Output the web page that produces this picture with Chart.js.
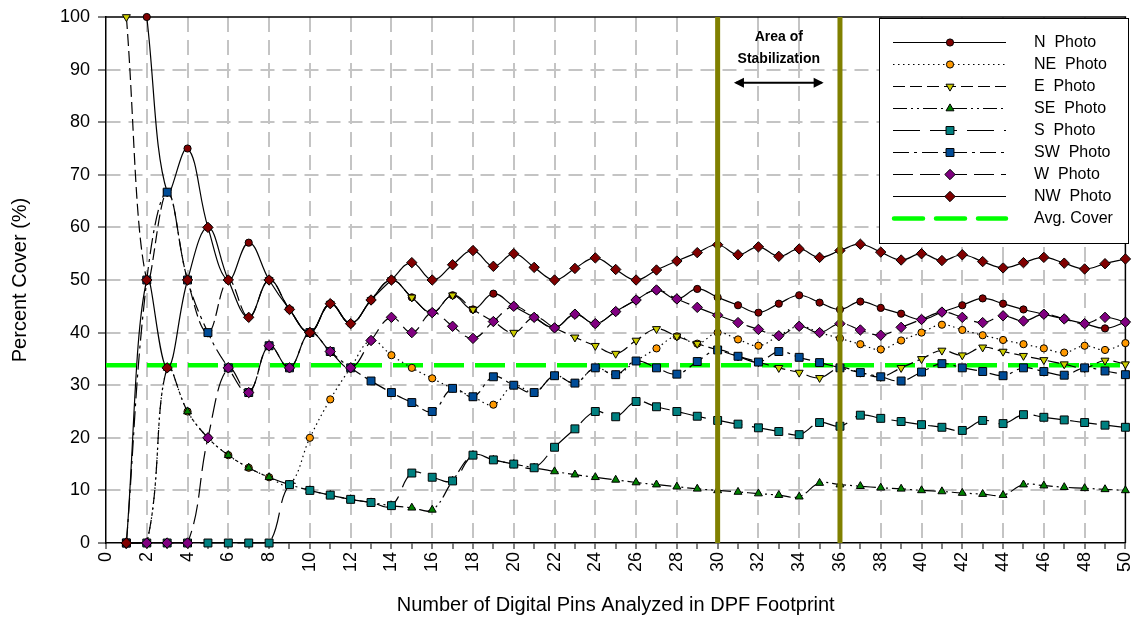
<!DOCTYPE html>
<html>
<head>
<meta charset="utf-8">
<script src="https://cdn.jsdelivr.net/npm/chart.js@4.4.0/dist/chart.umd.min.js"></script>
<style>
  html, body { margin: 0; padding: 0; background: #fff; }
</style>
</head>
<body>
<canvas id="chart" width="1132" height="630"></canvas>
<script>
// number of pins analysed
const pins = [1, 2, 3, 4, 5, 6, 7, 8, 9, 10, 11, 12, 13, 14, 15, 16, 17, 18, 19, 20,
  21, 22, 23, 24, 25, 26, 27, 28, 29, 30, 31, 32, 33, 34, 35, 36, 37, 38, 39, 40,
  41, 42, 43, 44, 45, 46, 47, 48, 49, 50];

// percent cover per photo direction
const nPhoto = [null, 100, 66.7, 75, 60, 50, 57.1, 50, 44.4, 40,
  45.5, 41.7, 46.2, 50, 46.7, 43.8, 47.1, 44.4, 47.4, 45,
  42.9, 40.9, 43.5, 41.7, 44, 46.2, 48.1, 46.4, 48.3, 46.7,
  45.2, 43.8, 45.5, 47.1, 45.7, 44.4, 45.9, 44.7, 43.6, 42.5,
  43.9, 45.2, 46.5, 45.5, 44.4, 43.5, 42.6, 41.7, 40.8, 42];
const nePhoto = [0, 0, 33.3, 25, 20, 16.7, 14.3, 12.5, 11.1, 20,
  27.3, 33.3, 38.5, 35.7, 33.3, 31.3, 29.4, 27.8, 26.3, 30,
  28.6, 31.8, 30.4, 33.3, 32, 34.6, 37, 39.3, 37.9, 40,
  38.7, 37.5, 39.4, 41.2, 40, 38.9, 37.8, 36.8, 38.5, 40,
  41.5, 40.5, 39.5, 38.6, 37.8, 37, 36.2, 37.5, 36.7, 38];
const ePhoto = [100, 50, 66.7, 50, 40, 50, 42.9, 50, 44.4, 40,
  45.5, 41.7, 46.2, 50, 46.7, 43.8, 47.1, 44.4, 42.1, 40,
  42.9, 40.9, 39.1, 37.5, 36, 38.5, 40.7, 39.3, 37.9, 36.7,
  35.5, 34.4, 33.3, 32.4, 31.4, 33.3, 32.4, 31.6, 33.3, 35,
  36.6, 35.7, 37.2, 36.4, 35.6, 34.8, 34, 33.3, 34.7, 34];
const sePhoto = [0, 0, 33.3, 25, 20, 16.7, 14.3, 12.5, 11.1, 10,
  9.1, 8.3, 7.7, 7.1, 6.7, 6.3, 11.8, 16.7, 15.8, 15,
  14.3, 13.6, 13, 12.5, 12, 11.5, 11.1, 10.7, 10.3, 10,
  9.7, 9.4, 9.1, 8.8, 11.4, 11.1, 10.8, 10.5, 10.3, 10,
  9.8, 9.5, 9.3, 9.1, 11.1, 10.9, 10.6, 10.4, 10.2, 10];
const sPhoto = [0, 0, 0, 0, 0, 0, 0, 0, 11.1, 10,
  9.1, 8.3, 7.7, 7.1, 13.3, 12.5, 11.8, 16.7, 15.8, 15,
  14.3, 18.2, 21.7, 25, 24, 26.9, 25.9, 25, 24.1, 23.3,
  22.6, 21.9, 21.2, 20.6, 22.9, 22.2, 24.3, 23.7, 23.1, 22.5,
  22, 21.4, 23.3, 22.7, 24.4, 23.9, 23.4, 22.9, 22.4, 22];
const swPhoto = [0, 50, 66.7, 50, 40, 33.3, 28.6, 37.5, 33.3, 40,
  36.4, 33.3, 30.8, 28.6, 26.7, 25, 29.4, 27.8, 31.6, 30,
  28.6, 31.8, 30.4, 33.3, 32, 34.6, 33.3, 32.1, 34.5, 36.7,
  35.5, 34.4, 36.4, 35.3, 34.3, 33.3, 32.4, 31.6, 30.8, 32.5,
  34.1, 33.3, 32.6, 31.8, 33.3, 32.6, 31.9, 33.3, 32.7, 32];
const wPhoto = [0, 0, 0, 0, 20, 33.3, 28.6, 37.5, 33.3, 40,
  36.4, 33.3, 38.5, 42.9, 40, 43.8, 41.2, 38.9, 42.1, 45,
  42.9, 40.9, 43.5, 41.7, 44, 46.2, 48.1, 46.4, 44.8, 43.3,
  41.9, 40.6, 39.4, 41.2, 40, 41.7, 40.5, 39.5, 41, 42.5,
  43.9, 42.9, 41.9, 43.2, 42.2, 43.5, 42.6, 41.7, 42.9, 42];
const nwPhoto = [0, 50, 33.3, 50, 60, 50, 42.9, 50, 44.4, 40,
  45.5, 41.7, 46.2, 50, 53.3, 50, 52.9, 55.6, 52.6, 55,
  52.4, 50, 52.2, 54.2, 52, 50, 51.9, 53.6, 55.2, 56.7,
  54.8, 56.3, 54.5, 55.9, 54.3, 55.6, 56.8, 55.3, 53.8, 55,
  53.7, 54.8, 53.5, 52.3, 53.3, 54.3, 53.2, 52.1, 53.1, 54];

const avgCover = 33.8;
const stabilizationPins = [30, 36];
const xRange = [0, 50];

const FONT = 'Liberation Sans, Arial, sans-serif';

const seriesStyle = [
  { label: 'N  Photo',  data: nPhoto,  color: '#800000', shape: 'circle',   r: 3.6, dash: [] },
  { label: 'NE  Photo', data: nePhoto, color: '#FF9900', shape: 'circle',   r: 3.6, dash: [1.5, 3.5] },
  { label: 'E  Photo',  data: ePhoto,  color: '#CCCC00', shape: 'triangle', r: 4.6, rot: 180, dash: [12, 5] },
  { label: 'SE  Photo', data: sePhoto, color: '#008000', shape: 'triangle', r: 4.6, dash: [14, 4, 2, 4, 2, 4] },
  { label: 'S  Photo',  data: sPhoto,  color: '#008080', shape: 'rect',     r: 5.6, dash: [27, 10] },
  { label: 'SW  Photo', data: swPhoto, color: '#004C97', shape: 'rect',     r: 5.6, dash: [16, 5, 3, 5] },
  { label: 'W  Photo',  data: wPhoto,  color: '#800080', shape: 'rectRot',  r: 5.2, dash: [20, 7] },
  { label: 'NW  Photo', data: nwPhoto, color: '#800000', shape: 'rectRot',  r: 5.2, dash: [] }
];

const datasets = seriesStyle.map((s, i) => ({
  label: s.label,
  data: pins.map((p, j) => ({ x: p, y: s.data[j] })),
  borderColor: '#000',
  borderWidth: 1.2,
  borderDash: s.dash,
  tension: 0.4,
  pointStyle: s.shape,
  pointRotation: s.rot || 0,
  pointRadius: s.r,
  pointBackgroundColor: s.color,
  pointBorderColor: '#000',
  pointBorderWidth: 1,
  clip: false,
  order: 10 - i
}));

datasets.push({
  label: 'Avg. Cover',
  data: xRange.map(x => ({ x: x, y: avgCover })),
  borderColor: '#00FF00',
  borderWidth: 4.5,
  borderDash: [30, 11],
  pointRadius: 0,
  order: 20
});

stabilizationPins.forEach(p => {
  datasets.push({
    label: 'stab' + p,
    data: [{ x: p, y: 0 }, { x: p, y: 100 }],
    borderColor: '#808000',
    borderWidth: 5,
    pointRadius: 0,
    order: 0
  });
});

function drawMarker(ctx, s, x, y) {
  const r = s.r;
  ctx.save();
  ctx.beginPath();
  if (s.shape === 'circle') {
    ctx.arc(x, y, r, 0, Math.PI * 2);
  } else if (s.shape === 'rect') {
    const h = r * Math.SQRT1_2;
    ctx.rect(x - h, y - h, 2 * h, 2 * h);
  } else if (s.shape === 'rectRot') {
    ctx.moveTo(x, y - r); ctx.lineTo(x + r, y); ctx.lineTo(x, y + r); ctx.lineTo(x - r, y);
    ctx.closePath();
  } else {
    let a = (s.rot || 0) * Math.PI / 180;
    for (let k = 0; k < 3; k++) {
      const px = x + Math.sin(a) * r, py = y - Math.cos(a) * r;
      k ? ctx.lineTo(px, py) : ctx.moveTo(px, py);
      a += Math.PI * 2 / 3;
    }
    ctx.closePath();
  }
  ctx.fillStyle = s.color;
  ctx.fill();
  ctx.lineWidth = 1;
  ctx.strokeStyle = '#000';
  ctx.setLineDash([]);
  ctx.stroke();
  ctx.restore();
}

const overlay = {
  id: 'overlay',
  beforeDatasetsDraw(chart) {
    const { ctx, chartArea: a } = chart;
    ctx.save();
    ctx.strokeStyle = '#000';
    ctx.lineWidth = 1.5;
    ctx.beginPath();
    ctx.moveTo(a.left, a.top); ctx.lineTo(a.right, a.top); ctx.lineTo(a.right, a.bottom);
    ctx.stroke();
    ctx.restore();
  },
  afterDatasetsDraw(chart) {
    const { ctx } = chart;
    const xs = chart.scales.x, ys = chart.scales.y;

    // area of stabilization label + arrow
    const mid = xs.getPixelForValue((stabilizationPins[0] + stabilizationPins[1]) / 2);
    ctx.save();
    ctx.fillStyle = '#000';
    ctx.font = 'bold 14px ' + FONT;
    ctx.textAlign = 'center';
    ctx.textBaseline = 'middle';
    ctx.fillText('Area of', mid, 37);
    ctx.fillText('Stabilization', mid, 59);
    const ax1 = xs.getPixelForValue(stabilizationPins[0] + 0.8);
    const ax2 = xs.getPixelForValue(stabilizationPins[1] - 0.8);
    const ay = ys.getPixelForValue(87.5);
    ctx.strokeStyle = '#000';
    ctx.lineWidth = 2;
    ctx.beginPath(); ctx.moveTo(ax1 + 2, ay); ctx.lineTo(ax2 - 2, ay); ctx.stroke();
    ctx.beginPath();
    ctx.moveTo(ax1, ay); ctx.lineTo(ax1 + 10, ay - 5); ctx.lineTo(ax1 + 10, ay + 5); ctx.closePath();
    ctx.moveTo(ax2, ay); ctx.lineTo(ax2 - 10, ay - 5); ctx.lineTo(ax2 - 10, ay + 5); ctx.closePath();
    ctx.fill();
    ctx.restore();

    // legend box
    const bx = 879, by = 18, bw = 249, bh = 225;
    ctx.save();
    ctx.fillStyle = '#fff';
    ctx.fillRect(bx, by, bw, bh);
    ctx.strokeStyle = '#000';
    ctx.lineWidth = 1;
    ctx.strokeRect(bx + 0.5, by + 0.5, bw, bh);
    ctx.font = '16px ' + FONT;
    ctx.textBaseline = 'middle';
    ctx.textAlign = 'left';
    const rowY = i => by + 24.5 + i * 22;
    seriesStyle.forEach((s, i) => {
      const y = rowY(i);
      ctx.save();
      ctx.strokeStyle = '#000';
      ctx.lineWidth = 1.2;
      ctx.setLineDash(s.dash);
      ctx.beginPath(); ctx.moveTo(893, y); ctx.lineTo(1006, y); ctx.stroke();
      ctx.restore();
      drawMarker(ctx, s, 950, y);
      ctx.fillStyle = '#000';
      ctx.fillText(s.label, 1034, y);
    });
    const ya = rowY(8);
    ctx.save();
    ctx.strokeStyle = '#00FF00';
    ctx.lineWidth = 4.5;
    ctx.lineCap = 'round';
    ctx.setLineDash([29, 13]);
    ctx.beginPath(); ctx.moveTo(894, ya); ctx.lineTo(1006, ya); ctx.stroke();
    ctx.restore();
    ctx.fillStyle = '#000';
    ctx.fillText('Avg. Cover', 1034, ya);
    ctx.restore();
  }
};

Chart.defaults.font.family = FONT;
Chart.defaults.color = '#000';

new Chart(document.getElementById('chart'), {
  type: 'line',
  data: { datasets: datasets },
  options: {
    responsive: false,
    animation: false,
    layout: { padding: { left: 0, right: 4, top: 17, bottom: 0 } },
    plugins: { legend: { display: false }, tooltip: { enabled: false } },
    scales: {
      x: {
        type: 'linear',
        min: xRange[0],
        max: xRange[1],
        afterFit: s => { s.height = 87; s.paddingLeft = 0; s.paddingRight = 0; },
        ticks: {
          stepSize: 1,
          autoSkip: false,
          maxRotation: 90,
          minRotation: 90,
          padding: 3,
          font: { size: 18 },
          callback: v => (v % 2 === 0 ? v : '')
        },
        grid: {
          color: c => (c.tick && c.tick.value % 2 === 0 && c.tick.value > 0 && c.tick.value < 50 ? '#c4c4c4' : 'rgba(0,0,0,0)'),
          lineWidth: 2,
          tickColor: '#000',
          tickLength: 6,
          tickWidth: 1
        },
        border: { color: '#000', width: 1.5, dash: [15, 8] },
        title: {
          display: true,
          text: 'Number of Digital Pins Analyzed in DPF Footprint',
          font: { size: 20 },
          padding: { top: 0, bottom: 13 }
        }
      },
      y: {
        min: 0,
        max: 100,
        afterFit: s => { s.width = 106; s.paddingTop = 0; s.paddingBottom = 0; },
        ticks: { stepSize: 10, padding: 8, font: { size: 18 } },
        grid: {
          color: c => (c.tick && c.tick.value > 0 && c.tick.value < 100 ? '#c4c4c4' : 'rgba(0,0,0,0)'),
          lineWidth: 2,
          tickColor: '#000',
          tickLength: 8,
          tickWidth: 1
        },
        border: { color: '#000', width: 1.5, dash: [14, 8] },
        title: {
          display: true,
          text: 'Percent Cover (%)',
          font: { size: 20 },
          padding: { top: 8, bottom: 0 }
        }
      }
    }
  },
  plugins: [overlay]
});
</script>
</body>
</html>
